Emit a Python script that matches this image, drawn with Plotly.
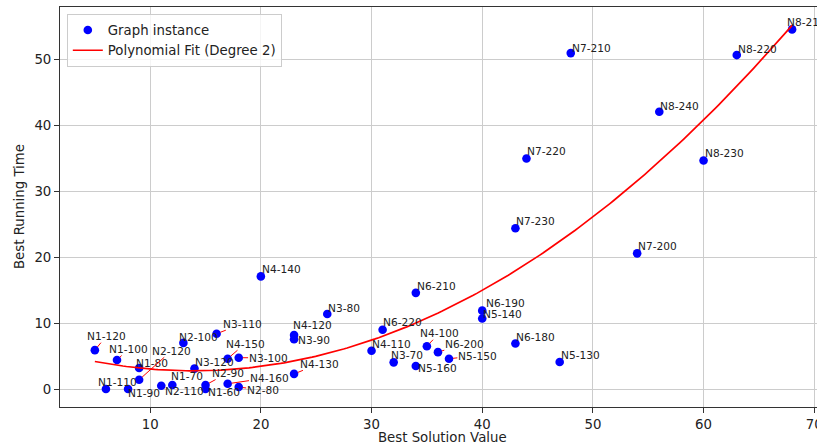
import numpy as np
import plotly.graph_objects as go

# ---------------- data ----------------
labels = ["N1-120", "N1-100", "N1-110", "N1-90", "N1-80", "N2-120", "N2-110", "N1-70",
          "N2-100", "N3-120", "N3-110", "N4-150", "N3-100", "N2-90", "N1-60", "N4-160",
          "N2-80", "N4-120", "N3-90", "N4-130", "N4-140", "N3-80", "N6-220", "N4-110",
          "N3-70", "N5-160", "N6-210", "N4-100", "N6-200", "N5-150", "N6-190", "N5-140",
          "N6-180", "N5-130", "N7-230", "N7-220", "N7-200", "N7-210", "N8-240", "N8-230",
          "N8-220", "N8-210"]
best_solution = [5, 7, 6, 8, 9, 9, 11, 12,
                 13, 14, 16, 17, 18, 15, 15, 17,
                 18, 23, 23, 23, 20, 26, 31, 30,
                 32, 34, 34, 35, 36, 37, 40, 40,
                 43, 47, 43, 44, 54, 48, 56, 60,
                 63, 68]
best_time = [5.9, 4.4, 0.0, 0.0, 3.2, 1.4, 0.5, 0.6,
             7.0, 3.1, 8.4, 4.6, 4.75, 0.6, 0.0, 0.8,
             0.3, 8.2, 7.55, 2.3, 17.1, 11.4, 9.0, 5.8,
             4.05, 3.5, 14.6, 6.5, 5.6, 4.6, 11.9, 10.7,
             6.9, 4.1, 24.4, 35.0, 20.6, 51.0, 42.1, 34.7,
             50.7, 54.6]

x_ticks = [10, 20, 30, 40, 50, 60, 70]
y_ticks = [0, 10, 20, 30, 40, 50]

x_title = "Best Solution Value"
y_title = "Best Running Time"

# ---------------- label placement (pixel offsets: text left, baseline; screen px) ----------------
label_offsets = {
    "N1-120": (-8, -10), "N1-100": (-8, -7), "N2-120": (13, -25), "N1-80": (-3, -1),
    "N1-110": (-8, -3), "N1-90": (0, 8), "N1-70": (-1, -5), "N2-110": (4, 9),
    "N2-100": (-4, -2), "N3-110": (7, -6), "N4-150": (-2, -11), "N3-100": (10, 4),
    "N2-90": (6, -8), "N1-60": (2, 7), "N4-160": (22, -2), "N2-80": (8, 7),
    "N4-120": (-1, -6), "N3-90": (4, 5), "N4-130": (6, -6), "N3-80": (1, -2),
    "N6-220": (0, -4), "N4-110": (0, -3), "N3-70": (-3, -3), "N5-160": (2, 6),
    "N4-100": (-7, -9), "N6-200": (7, -4), "N5-150": (9, 1), "N6-190": (4, -4),
    "N5-140": (1, -1), "N7-210": (1, -1), "N8-240": (1, -2), "N8-220": (1, -2),
    "N8-210": (-5, -3),
}
arrowed = {"N1-120", "N1-100", "N2-120", "N3-110", "N4-150", "N3-100", "N2-90",
           "N4-160", "N2-80", "N4-130", "N4-100", "N6-200", "N5-150"}

FONT = "DejaVu Sans"
ANN_FS = 10.6
BASE_FS = 13.3
TXT = "#222222"

char_w = {"N": 0.748, "-": 0.361}


def text_width(s, fs):
    return sum(char_w.get(c, 0.636) for c in s) * fs


# ---------------- polynomial fit ----------------
coef = np.polyfit(best_solution, best_time, 2)
fit_x = np.linspace(min(best_solution), max(best_solution), 200)
fit_y = np.polyval(coef, fit_x)

fig = go.Figure()
fig.add_trace(go.Scatter(
    x=best_solution, y=best_time, mode="markers", name="Graph instance",
    marker=dict(color="#0000ff", size=8.6, line=dict(width=0)),
))
fig.add_trace(go.Scatter(
    x=fit_x, y=fit_y, mode="lines", name="Polynomial Fit (Degree 2)",
    line=dict(color="#ff0000", width=1.7),
))

annotations = []
for lab, xv, yv in zip(labels, best_solution, best_time):
    dx, dy = label_offsets.get(lab, (1, -3))
    if lab in arrowed:
        w = text_width(lab, ANN_FS)
        annotations.append(dict(
            x=xv, y=yv, xref="x", yref="y", text=lab, showarrow=True,
            ax=dx + w / 2, ay=dy - 4, axref="pixel", ayref="pixel",
            xanchor="center", yanchor="middle",
            arrowhead=0, arrowwidth=1, arrowcolor="#ff0000", standoff=4,
            borderpad=0, font=dict(family=FONT, size=ANN_FS, color=TXT),
        ))
    else:
        annotations.append(dict(
            x=xv, y=yv, xref="x", yref="y", text=lab, showarrow=False,
            xanchor="left", yanchor="bottom", xshift=dx - 1, yshift=-(dy + 3),
            borderpad=0, font=dict(family=FONT, size=ANN_FS, color=TXT),
        ))

# axis titles
annotations.append(dict(
    x=0.505, y=0, xref="paper", yref="paper", text=x_title, showarrow=False,
    xanchor="center", yanchor="top", yshift=-22, borderpad=0,
    font=dict(family=FONT, size=BASE_FS, color=TXT),
))
annotations.append(dict(
    x=0, y=0.5, xref="paper", yref="paper", text=y_title, showarrow=False,
    textangle=-90, xanchor="center", yanchor="middle", xshift=-41, borderpad=0,
    font=dict(family=FONT, size=BASE_FS, color=TXT),
))

fig.update_layout(
    width=817, height=444,
    margin=dict(l=60, r=0, t=7, b=37, autoexpand=False),
    paper_bgcolor="white", plot_bgcolor="white",
    font=dict(family=FONT, size=BASE_FS, color=TXT),
    showlegend=True,
    legend=dict(
        x=0.009, y=0.983, xanchor="left", yanchor="top",
        bgcolor="rgba(255,255,255,0.8)", bordercolor="#cccccc", borderwidth=1,
        font=dict(family=FONT, size=BASE_FS, color=TXT),
        tracegroupgap=0,
    ),
    annotations=annotations,
    xaxis=dict(
        range=[1.85, 70.25], tickvals=x_ticks, ticktext=[str(v) for v in x_ticks],
        showgrid=True, gridcolor="#cccccc", gridwidth=1, zeroline=False,
        showline=True, linecolor="#333333", linewidth=1, mirror=True,
        ticks="outside", ticklen=5, tickcolor="#333333", automargin=False,
        ticklabeloverflow="allow",
    ),
    yaxis=dict(
        range=[-2.73, 58.0], tickvals=y_ticks, ticktext=[str(v) for v in y_ticks],
        showgrid=True, gridcolor="#cccccc", gridwidth=1, zeroline=False,
        showline=True, linecolor="#333333", linewidth=1, mirror=False,
        ticks="outside", ticklen=5, tickcolor="#333333", automargin=False,
    ),
)

fig.write_html(
    "out.html",
    config={"displayModeBar": False},
    post_script="document.body.style.margin='0';document.body.style.overflow='hidden';",
)
